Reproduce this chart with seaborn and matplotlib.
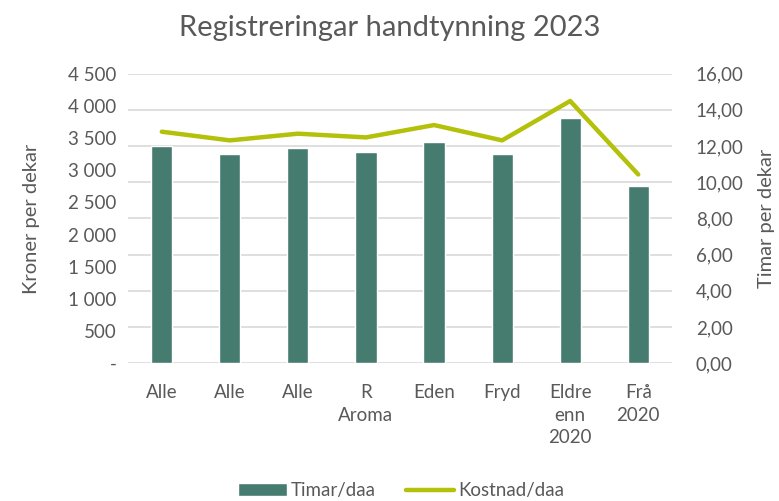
import pandas as pd
import seaborn as sns
import matplotlib.pyplot as plt
from matplotlib.patches import Patch
from matplotlib.lines import Line2D
from matplotlib.ticker import FuncFormatter

labels = ["Alle", "Alle", "Alle", "R\nAroma", "Eden", "Fryd", "Eldre\nenn\n2020", "Frå\n2020"]
timar = [11.99, 11.55, 11.87, 11.68, 12.25, 11.55, 13.57, 9.78]
kostnad = [3598, 3463, 3567, 3509, 3701, 3463, 4075, 2933]

data = pd.DataFrame({
    "pos": range(len(labels)),
    "timar": timar,
    "kostnad": kostnad,
})

sns.set_style("white")
plt.rcParams["font.family"] = ["Lato", "DejaVu Sans"]

bar_color = "#467B70"
line_color = "#B4C10A"
text_color = "#595959"

fig = plt.figure(figsize=(7.79, 5.01), dpi=100)
ax = fig.add_axes([0.164, 0.275, 0.699, 0.578])
ax2 = ax.twinx()

# bars = timar (right axis), line = kroner (left axis)
sns.barplot(data=data, x="pos", y="timar", color=bar_color, width=0.31,
            saturation=1, ax=ax, zorder=2)
sns.lineplot(data=data, x="pos", y="kostnad", color=line_color, linewidth=3.2,
             ax=ax2, solid_capstyle="round")

ax.set_ylim(0, 16)
ax.set_yticks(range(0, 17, 2))
ax.yaxis.set_major_formatter(FuncFormatter(lambda v, p: f"{v:.2f}".replace(".", ",")))
ax.set_xlabel("")
ax.set_xticks(range(len(labels)))
ax.set_xticklabels(labels, fontsize=13.5, color=text_color, va="top", linespacing=1.4)
ax.grid(axis="y", color="#D9D9D9", linewidth=1.2, zorder=0)
ax.set_axisbelow(True)

ax2.set_ylim(0, 4500)
ax2.set_yticks(range(0, 4501, 500))
ax2.yaxis.set_major_formatter(FuncFormatter(
    lambda v, p: "-" if v == 0 else f"{int(v):,}".replace(",", " ")))
ax2.set_xlim(-0.5, len(labels) - 0.5)

ax.yaxis.tick_right()
ax.yaxis.set_label_position("right")
ax2.yaxis.tick_left()
ax2.yaxis.set_label_position("left")

for a in (ax, ax2):
    for s in a.spines.values():
        s.set_visible(False)
    a.tick_params(axis="both", length=0, labelsize=13.5, labelcolor=text_color, pad=8)
ax.tick_params(axis="y", pad=17)
ax.tick_params(axis="x", pad=15)

ax.set_ylabel("Timar per dekar", fontsize=14.5, color=text_color, labelpad=10)
ax2.set_ylabel("Kroner per dekar", fontsize=14.5, color=text_color, labelpad=20)

fig.suptitle("Registreringar handtynning 2023", fontsize=21, color=text_color, y=0.97)

handles = [Patch(facecolor=bar_color, label="Timar/daa"),
           Line2D([0], [0], color=line_color, linewidth=3.2, label="Kostnad/daa")]
fig.legend(handles=handles, loc="lower center", ncol=2, frameon=False,
           bbox_to_anchor=(0.515, -0.03), fontsize=13.5, labelcolor=text_color,
           handlelength=2.6, handletextpad=0.2, columnspacing=1.6)

fig.savefig("out.png", dpi=100)
